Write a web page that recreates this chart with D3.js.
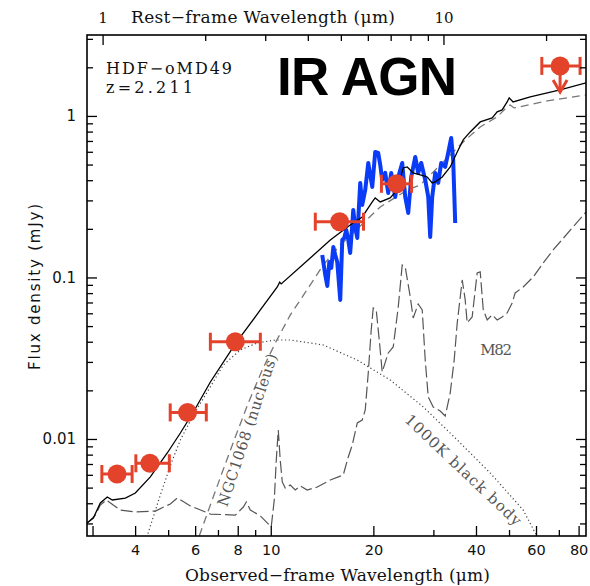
<!DOCTYPE html>
<html><head><meta charset="utf-8">
<script src="https://cdn.jsdelivr.net/npm/d3@7"></script>
<style>body{margin:0;background:#fff}</style>
</head><body><svg id="c" width="590" height="586"></svg>
<script>
// ---------- DATA ----------
const redshift = 2.211;
const obsTicks = [3,4,5,6,7,8,9,10,20,30,40,50,60,70,80];
const obsLabels = [4,6,8,10,20,40,60,80];
const obsLong = [3,4,6,8,10,20,40,60,80];
const restTicks = [1,2,3,4,5,6,7,8,9,10,20];
const restLabels = [1,10];
const fluxTicks = [0.003,0.004,0.005,0.006,0.007,0.008,0.009,0.01,0.02,0.03,0.04,0.05,0.06,0.07,0.08,0.09,0.1,0.2,0.3,0.4,0.5,0.6,0.7,0.8,0.9,1,2,3];
const fluxLabels = [0.01,0.1,1];

// photometry (observed micron, filter range, flux mJy)
const photLambda = [3.54, 4.42, 5.70, 7.87, 15.92, 23.42, 70.6];
const photLo     = [3.195, 4.02, 5.07, 6.65, 13.51, 21.12, 62.4];
const photHi     = [3.92, 5.04, 6.47, 9.32, 18.71, 25.88, 80.8];
const photFlux   = [0.00607, 0.00707, 0.0146, 0.0400, 0.2215, 0.380, 2.04];
const photUpper  = [false,false,false,false,false,false,true];

// total model (black)
const totalModel = [[2.89,0.00302],[3.017,0.00324],[3.162,0.00402],[3.314,0.00437],[3.43,0.00419],[3.744,0.00431],[4.006,0.00463],[4.433,0.00582],[4.97,0.00819],[5.43,0.01089],[5.93,0.01469],[6.65,0.02254],[7.87,0.0388],[9.32,0.0629],[10.45,0.0873],[10.62,0.0935],[10.73,0.0912],[13.06,0.132],[14.95,0.1707],[17.1,0.2113],[18.55,0.237],[19.85,0.2934],[20.25,0.3106],[20.95,0.2934],[22.4,0.3106],[23.5,0.348],[24.47,0.4764],[25.14,0.4833],[26.17,0.4437],[27.45,0.431],[28.77,0.419],[29.76,0.3847],[30.37,0.3903],[31.84,0.419],[33.61,0.4833],[35.24,0.5985],[36.69,0.7102],[38.46,0.796],[41.16,0.918],[44.63,0.972],[46.15,1.059],[47.73,1.089],[49.37,1.221],[50.05,1.293],[51.4,1.221],[57.7,1.311],[70.6,1.449],[84.1,1.601]];

// NGC1068 nucleus template (short dashes)
const ngc1068 = [[6.05,0.0021],[6.17,0.00251],[6.65,0.0039],[7.21,0.00625],[7.87,0.01028],[8.59,0.0167],[9.44,0.0267],[10.31,0.0393],[11.41,0.0586],[13.06,0.0899],[14.26,0.1195],[15.99,0.159],[18.06,0.2025],[20.95,0.2733],[25.14,0.348],[27.45,0.3739],[31.41,0.497],[36.69,0.690],[41.16,0.855],[46.15,0.986],[49.7,1.153],[50.4,1.17],[51.76,1.121],[64.7,1.238],[84.1,1.349]];

// M82 template (long dashes)
const m82 = [[2.896,0.00302],[3.058,0.00338],[3.162,0.0039],[3.293,0.00419],[3.62,0.00363],[4.006,0.00353],[4.585,0.00358],[5.074,0.00396],[5.32,0.00431],[5.81,0.00385],[6.65,0.00343],[7.87,0.00338],[8.31,0.00379],[8.48,0.00407],[8.71,0.00363],[9.32,0.00334],[9.83,0.00298],[10.03,0.00285],[10.24,0.00419],[10.38,0.00741],[10.52,0.01137],[10.66,0.00741],[10.81,0.00542],[11.03,0.00497],[11.41,0.00519],[11.8,0.00483],[12.2,0.00512],[12.79,0.00483],[13.69,0.00504],[14.95,0.00557],[16.32,0.00599],[16.88,0.00774],[17.34,0.00918],[17.94,0.01256],[18.55,0.01311],[18.93,0.01512],[19.32,0.02563],[19.71,0.0473],[19.98,0.0647],[20.39,0.0629],[20.81,0.041],[21.23,0.026],[22.11,0.0341],[22.87,0.0371],[23.66,0.0657],[24.3,0.1195],[24.8,0.1161],[25.66,0.0757],[26.17,0.0561],[27.07,0.0685],[27.82,0.0629],[28.39,0.0308],[28.97,0.0182],[29.96,0.01578],[31.41,0.01491],[32.49,0.01388],[33.61,0.01927],[34.52,0.0308],[35.24,0.0523],[36.45,0.0965],[37.19,0.0726],[37.69,0.0523],[38.98,0.0569],[40.32,0.1066],[41.16,0.1082],[42.02,0.0629],[43.14,0.0546],[44.63,0.0586],[46.15,0.0546],[47.73,0.0569],[49.37,0.0603],[51.07,0.0695],[52.12,0.0802],[55.03,0.0873],[58.87,0.1007],[62.98,0.123],[67.37,0.148],[84.1,0.2544]];

// 1000K black body (dotted)
const blackBody = [[4.227,0.00211],[4.742,0.0045],[5.108,0.0071],[5.43,0.00986],[5.93,0.0141],[6.51,0.01954],[7.26,0.0287],[8.14,0.0356],[9.13,0.0393],[10.31,0.041],[11.41,0.041],[14.26,0.0382],[17.94,0.0308],[22.4,0.0232],[28.01,0.0158],[35.24,0.00986],[44.03,0.00616],[55.03,0.00363],[61.0,0.0024],[63.8,0.00221]];

// IRS spectrum (blue)
const irsLambda = [14.16,14.26,14.45,14.65,14.85,15.05,15.26,15.46,15.67,15.99,16.21,16.43,16.65,16.88,17.1,17.34,17.46,17.69,17.94,18.3,18.55,18.93,19.32,19.58,19.85,20.25,20.66,20.95,21.23,21.67,22.11,22.56,23.18,23.66,24.3,24.8,25.31,25.83,26.54,27.07,27.63,28.39,28.97,29.36,29.76,30.37,30.99,31.62,32.49,33.15,33.83,34.29,34.76];
const irsFlux = [0.1378,0.1247,0.1036,0.0886,0.1247,0.1145,0.1545,0.1378,0.1247,0.0726,0.1707,0.1757,0.1968,0.1707,0.1418,0.2113,0.2618,0.2025,0.1757,0.3847,0.2812,0.348,0.5117,0.431,0.3634,0.5985,0.5901,0.497,0.4016,0.4437,0.3337,0.4437,0.315,0.419,0.5117,0.315,0.2508,0.419,0.5575,0.4437,0.5117,0.4016,0.315,0.1781,0.315,0.4437,0.3847,0.5117,0.4833,0.5901,0.7306,0.534,0.2175];

// ---------- CHART ----------
const m = {left:87, right:586, top:35, bottom:536};
const x = d3.scaleLog().domain([2.89,84.1]).range([m.left,m.right]);
const xr = d3.scaleLog().domain([2.89/(1+redshift),84.1/(1+redshift)]).range([m.left,m.right]);
const y = d3.scaleLog().domain([0.002508,3.17]).range([m.bottom,m.top]);
const svg = d3.select('#c');
const serif = "'DejaVu Serif', serif";
const sans = "'DejaVu Sans', sans-serif";

svg.append('defs').append('clipPath').attr('id','clip')
  .append('rect').attr('x',m.left).attr('y',m.top).attr('width',m.right-m.left).attr('height',m.bottom-m.top);

const plot = svg.append('g').attr('clip-path','url(#clip)');
const line = d3.line().x(d=>x(d[0])).y(d=>y(d[1]));

plot.append('path').datum(blackBody).attr('d',line).attr('fill','none')
  .attr('stroke','#444').attr('stroke-width',1.2).attr('stroke-dasharray','1.2,2.6');
plot.append('path').datum(m82).attr('d',line).attr('fill','none')
  .attr('stroke','#555').attr('stroke-width',1.2).attr('stroke-dasharray','12,4');
plot.append('path').datum(ngc1068).attr('d',line).attr('fill','none')
  .attr('stroke','#777').attr('stroke-width',1.3).attr('stroke-dasharray','8,5');

const irs = irsLambda.map((l,i)=>[l,irsFlux[i]]);
plot.append('path').datum(irs).attr('d',line).attr('fill','none')
  .attr('stroke','#0a3cf7').attr('stroke-width',4).attr('stroke-linejoin','round');

plot.append('path').datum(totalModel).attr('d',line).attr('fill','none')
  .attr('stroke','#000').attr('stroke-width',1.3);

// photometry
const red = '#e4432b';
const phot = photLambda.map((l,i)=>({l,lo:photLo[i],hi:photHi[i],f:photFlux[i],up:photUpper[i]}));
const pg = svg.append('g');
phot.forEach(p=>{
  const cy=y(p.f);
  pg.append('line').attr('x1',x(p.lo)).attr('x2',x(p.hi)).attr('y1',cy).attr('y2',cy).attr('stroke',red).attr('stroke-width',3);
  [p.lo,p.hi].forEach(v=>pg.append('line').attr('x1',x(v)).attr('x2',x(v)).attr('y1',cy-9).attr('y2',cy+9).attr('stroke',red).attr('stroke-width',3));
  if(p.up){
    const cx=x(p.l);
    pg.append('line').attr('x1',cx).attr('x2',cx).attr('y1',cy).attr('y2',cy+26).attr('stroke',red).attr('stroke-width',3);
    pg.append('path').attr('d',`M${cx-7},${cy+14}L${cx},${cy+26}L${cx+7},${cy+14}`).attr('fill','none').attr('stroke',red).attr('stroke-width',3);
  }
  pg.append('circle').attr('cx',x(p.l)).attr('cy',cy).attr('r',9.5).attr('fill',red);
});

// axes
const gB = svg.append('g').attr('transform',`translate(0,${m.bottom})`)
  .call(d3.axisBottom(x).tickValues(obsTicks).tickSizeInner(-6).tickSizeOuter(0).tickPadding(9)
    .tickFormat(d=>obsLabels.includes(d)?String(d):''));
gB.selectAll('.tick line').attr('y2',d=>obsLong.includes(d)?-10:-6);
gB.selectAll('text').attr('font-family',sans).attr('font-size',14.5).attr('fill','#111');

const gT = svg.append('g').attr('transform',`translate(0,${m.top})`)
  .call(d3.axisTop(xr).tickValues(restTicks).tickSizeInner(-6).tickSizeOuter(0).tickPadding(12)
    .tickFormat(d=>restLabels.includes(d)?String(d):''));
gT.selectAll('.tick line').attr('y2',d=>restLabels.includes(d)?10:6);
gT.selectAll('text').attr('font-family',serif).attr('font-size',15).attr('fill','#111');

const gL = svg.append('g').attr('transform',`translate(${m.left},0)`)
  .call(d3.axisLeft(y).tickValues(fluxTicks).tickSizeInner(-6).tickSizeOuter(0).tickPadding(11)
    .tickFormat(d=>fluxLabels.includes(d)?String(d):''));
gL.selectAll('.tick line').attr('x2',d=>fluxLabels.includes(d)?10:6);
gL.selectAll('text').attr('font-family',sans).attr('font-size',15).attr('fill','#111');

const gR = svg.append('g').attr('transform',`translate(${m.right},0)`)
  .call(d3.axisRight(y).tickValues(fluxTicks).tickSizeInner(-6).tickSizeOuter(0).tickFormat(''));
gR.selectAll('.tick line').attr('x2',d=>fluxLabels.includes(d)?-10:-6);

[gB,gT,gL,gR].forEach(g=>{g.select('.domain').remove(); g.selectAll('.tick line').attr('stroke','#000').attr('stroke-width',1.3);});

svg.append('rect').attr('x',m.left).attr('y',m.top).attr('width',m.right-m.left).attr('height',m.bottom-m.top)
  .attr('fill','none').attr('stroke','#000').attr('stroke-width',1.6);

// axis titles
svg.append('text').attr('x',(185+490)/2).attr('y',581).attr('text-anchor','middle')
  .attr('font-family',serif).attr('font-size',17).attr('fill','#111').attr('textLength',305)
  .text('Observed\u2212frame Wavelength (\u03bcm)');
svg.append('text').attr('x',263).attr('y',23).attr('text-anchor','middle')
  .attr('font-family',serif).attr('font-size',17).attr('fill','#111').attr('textLength',264)
  .text('Rest\u2212frame Wavelength (\u03bcm)');
svg.append('text').attr('transform','translate(40,287) rotate(-90)').attr('text-anchor','middle')
  .attr('font-family',sans).attr('font-size',15).attr('fill','#111').attr('textLength',166)
  .text('Flux density (mJy)');

// annotations
svg.append('text').attr('x',106).attr('y',74).attr('font-family',serif).attr('font-size',16)
  .attr('fill','#111').attr('textLength',126).text('HDF\u2212oMD49');
svg.append('text').attr('x',106).attr('y',93).attr('font-family',serif).attr('font-size',16)
  .attr('fill','#111').attr('textLength',87).text('z=2.211');
svg.append('text').attr('x',277).attr('y',95).attr('font-family',"'Liberation Sans', Arial, sans-serif")
  .attr('font-weight','bold').attr('font-size',53).attr('fill','#000').attr('textLength',180).text('IR AGN');

function rotLabel(l,f,ang,txt,len){
  svg.append('text').attr('transform',`translate(${x(l)},${y(f)}) rotate(${ang})`)
    .attr('text-anchor','middle').attr('dy','0.35em').attr('font-family',serif).attr('font-size',15)
    .attr('fill','#555').attr('textLength',len).text(txt);
}
rotLabel(8.53,0.01137,-71.7,'NGC1068 (nucleus)',160);
rotLabel(36.69,0.00643,43.4,'1000K black body',154);
rotLabel(45.84,0.0358,0,'M82',32);
</script></body></html>
